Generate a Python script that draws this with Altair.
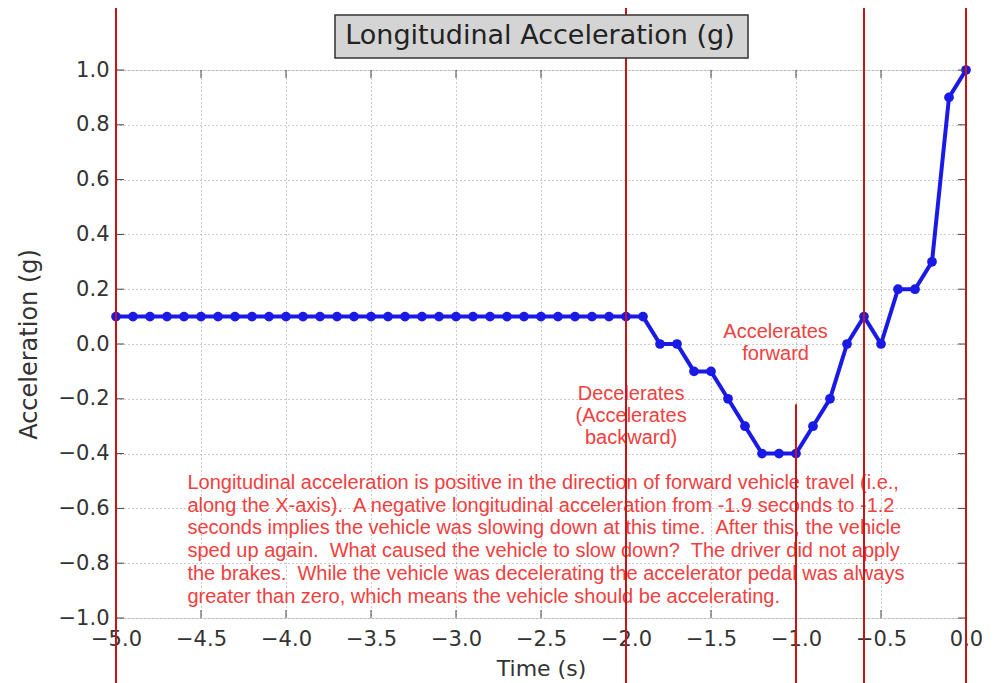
import altair as alt
import pandas as pd

# ---- data ----
time = [-5.0, -4.9, -4.8, -4.7, -4.6, -4.5, -4.4, -4.3, -4.2, -4.1,
        -4.0, -3.9, -3.8, -3.7, -3.6, -3.5, -3.4, -3.3, -3.2, -3.1,
        -3.0, -2.9, -2.8, -2.7, -2.6, -2.5, -2.4, -2.3, -2.2, -2.1,
        -2.0, -1.9, -1.8, -1.7, -1.6, -1.5, -1.4, -1.3, -1.2, -1.1,
        -1.0, -0.9, -0.8, -0.7, -0.6, -0.5, -0.4, -0.3, -0.2, -0.1, 0.0]
accel = [0.1, 0.1, 0.1, 0.1, 0.1, 0.1, 0.1, 0.1, 0.1, 0.1,
         0.1, 0.1, 0.1, 0.1, 0.1, 0.1, 0.1, 0.1, 0.1, 0.1,
         0.1, 0.1, 0.1, 0.1, 0.1, 0.1, 0.1, 0.1, 0.1, 0.1,
         0.1, 0.1, 0.0, 0.0, -0.1, -0.1, -0.2, -0.3, -0.4, -0.4,
         -0.4, -0.3, -0.2, 0.0, 0.1, 0.0, 0.2, 0.2, 0.3, 0.9, 1.0]

x_ticks = [-5.0, -4.5, -4.0, -3.5, -3.0, -2.5, -2.0, -1.5, -1.0, -0.5, 0.0]
y_ticks = [-1.0, -0.8, -0.6, -0.4, -0.2, 0.0, 0.2, 0.4, 0.6, 0.8, 1.0]

marker_lines = [-5.0, -2.0, -0.6, 0.0]
short_line_x = [-1.0]
short_line_top = [-0.22]

NB = "\u00a0 "  # double space kept visible
title_text = "Longitudinal Acceleration (g)"
decel_text = ["Decelerates", "(Accelerates", "backward)"]
decel_pos = [-1.97, -0.146]
accel_text = ["Accelerates", "forward"]
accel_pos = [-1.12, 0.08]
para_text = [
    "Longitudinal acceleration is positive in the direction of forward vehicle travel (i.e.,",
    "along the X-axis)." + NB + "A negative longitudinal acceleration from -1.9 seconds to -1.2",
    "seconds implies the vehicle was slowing down at this time." + NB + "After this, the vehicle",
    "sped up again." + NB + "What caused the vehicle to slow down?" + NB + "The driver did not apply",
    "the brakes." + NB + "While the vehicle was decelerating the accelerator pedal was always",
    "greater than zero, which means the vehicle should be accelerating.",
]
para_pos = [-4.58, -0.47]

W, H = 850, 548
RED_LINE = "#c81414"
RED_TEXT = "#f04040"

df = pd.DataFrame({"t": time, "a": accel})

xs = alt.Scale(domain=[-5.0, 0.0], nice=False, zero=False)
ys = alt.Scale(domain=[-1.0, 1.0], nice=False, zero=False)

x_axis = alt.Axis(values=x_ticks, format=".1f", title="Time (s)", grid=True,
                  gridDash=[1, 3], gridColor="#999", domain=False, ticks=False,
                  labelFlush=False, labelOverlap=False,
                  labelFontSize=21, labelFont="DejaVu Sans", labelColor="#333",
                  titleFont="DejaVu Sans", titleFontSize=22, titleFontWeight="normal",
                  titleColor="#333", labelPadding=10, titlePadding=9)
y_axis = alt.Axis(values=y_ticks, format=".1f", title="Acceleration (g)", grid=True,
                  gridDash=[1, 3], gridColor="#999", domain=False, ticks=False,
                  labelFlush=False, labelOverlap=False,
                  labelFontSize=21, labelFont="DejaVu Sans", labelColor="#333",
                  titleFont="DejaVu Sans", titleFontSize=24, titleFontWeight="normal",
                  titleColor="#333", labelPadding=7, titlePadding=17)

base = alt.Chart(df)

line = base.mark_line(color="#1a1ae6", strokeWidth=4).encode(
    x=alt.X("t:Q", scale=xs, axis=x_axis),
    y=alt.Y("a:Q", scale=ys, axis=y_axis),
)
pts = base.mark_circle(color="#1a1ae6", size=95, opacity=1).encode(
    x=alt.X("t:Q", scale=xs), y=alt.Y("a:Q", scale=ys))

# inward ticks
xt = alt.Chart(pd.DataFrame({"v": x_ticks}))
xtick_b = xt.mark_rule(color="#444", strokeWidth=1).encode(
    x=alt.X("v:Q", scale=xs), y=alt.value(H), y2=alt.value(H - 8))
xtick_t = xt.mark_rule(color="#444", strokeWidth=1).encode(
    x=alt.X("v:Q", scale=xs), y=alt.value(0), y2=alt.value(8))
yt = alt.Chart(pd.DataFrame({"v": y_ticks}))
ytick_l = yt.mark_rule(color="#444", strokeWidth=1).encode(
    y=alt.Y("v:Q", scale=ys), x=alt.value(0), x2=alt.value(8))
ytick_r = yt.mark_rule(color="#444", strokeWidth=1).encode(
    y=alt.Y("v:Q", scale=ys), x=alt.value(W), x2=alt.value(W - 8))

vlines = alt.Chart(pd.DataFrame({"v": marker_lines})).mark_rule(
    color=RED_LINE, strokeWidth=2).encode(
    x=alt.X("v:Q", scale=xs), y=alt.value(-70), y2=alt.value(H + 70))
short = alt.Chart(pd.DataFrame({"v": short_line_x, "top": short_line_top})).mark_rule(
    color=RED_LINE, strokeWidth=2).encode(
    x=alt.X("v:Q", scale=xs), y=alt.Y("top:Q", scale=ys), y2=alt.value(H + 70))

decel = alt.Chart(pd.DataFrame({"x": [decel_pos[0]], "y": [decel_pos[1]],
                                "txt": ["\n".join(decel_text)]})).mark_text(
    color=RED_TEXT, font="Liberation Sans", fontSize=20, lineBreak="\n",
    lineHeight=22, align="center", baseline="top").encode(
    x=alt.X("x:Q", scale=xs), y=alt.Y("y:Q", scale=ys), text="txt:N")
acc = alt.Chart(pd.DataFrame({"x": [accel_pos[0]], "y": [accel_pos[1]],
                              "txt": ["\n".join(accel_text)]})).mark_text(
    color=RED_TEXT, font="Liberation Sans", fontSize=20, lineBreak="\n",
    lineHeight=22, align="center", baseline="top").encode(
    x=alt.X("x:Q", scale=xs), y=alt.Y("y:Q", scale=ys), text="txt:N")
para = alt.Chart(pd.DataFrame({"x": [para_pos[0]], "y": [para_pos[1]],
                               "txt": ["\n".join(para_text)]})).mark_text(
    color=RED_TEXT, font="Liberation Sans", fontSize=20, lineBreak="\n",
    lineHeight=22.8, align="left", baseline="top").encode(
    x=alt.X("x:Q", scale=xs), y=alt.Y("y:Q", scale=ys), text="txt:N")

title_df = pd.DataFrame({"txt": [title_text]})
title_box = alt.Chart(title_df).mark_rect(
    fill="#d4d4d4", stroke="#333", strokeWidth=1.5).encode(
    x=alt.value(219), x2=alt.value(632), y=alt.value(-55), y2=alt.value(-12))
title_txt = alt.Chart(title_df).mark_text(
    font="DejaVu Sans", fontSize=27, color="#222", align="center",
    baseline="middle").encode(x=alt.value(W / 2 - 1), y=alt.value(-34), text="txt:N")

chart = alt.layer(
    line, pts, xtick_b, xtick_t, ytick_l, ytick_r, decel, acc, para,
    vlines, short, title_box, title_txt
).properties(
    width=W, height=H,
    autosize=alt.AutoSizeParams(type="none"),
    padding={"left": 108, "top": 62, "right": 26, "bottom": 65},
).configure_view(
    stroke="#777", strokeWidth=2.5
).configure(background="white")

chart.save("out.html", embed_options={"renderer": "svg", "actions": False})
